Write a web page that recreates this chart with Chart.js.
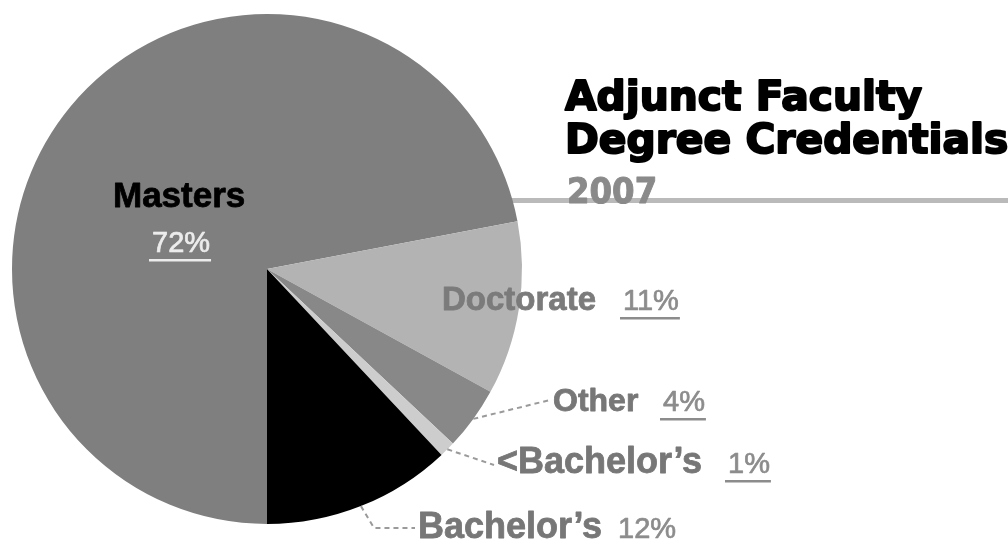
<!DOCTYPE html>
<html>
<head>
<meta charset="utf-8">
<title>Adjunct Faculty Degree Credentials 2007</title>
<script src="https://cdn.jsdelivr.net/npm/chart.js@4/dist/chart.umd.min.js"></script>
<style>
  html, body { margin: 0; padding: 0; background: #fff; }
  canvas { display: block; }
</style>
</head>
<body>
<canvas id="pie" width="1008" height="544"></canvas>
<script>
// degree shares, in drawing order (clockwise from the bottom)
const categories = ["Masters", "Doctorate", "Other", "<Bachelor\u2019s", "Bachelor\u2019s"];
const shares = [72, 11, 4, 1, 12];
const titleLines = ["Adjunct Faculty", "Degree Credentials"];
const yearLabel = "2007";

const sliceColors = ["#7f7f7f", "#b3b3b3", "#888888", "#cdcdcd", "#000000"];

// where each slice's label sits, and how its leader line runs
const labelSpots = [
  { x: 113, y: 207, size: 35, color: "#000", pctX: 152, pctY: 252, pctColor: "#ececec" },
  { x: 442, y: 310, size: 33, color: "#7b7b7b", pctX: 623, pctY: 310, pctColor: "#8c8c8c" },
  { x: 553, y: 411, size: 32, color: "#777", pctX: 663, pctY: 411, pctColor: "#8c8c8c", leader: [[550, 400]] },
  { x: 497, y: 473, size: 36, color: "#777", pctX: 728, pctY: 473, pctColor: "#8c8c8c", leader: [[494, 465]] },
  { x: 418, y: 538, size: 36, color: "#777", pctX: 618, pctY: 538, pctColor: "#8c8c8c", leader: [[374, 528], [415, 528]] },
];

// heavy text: fill plus a thin stroke of the same colour
function heavyText(ctx, text, x, y, sx, weight) {
  ctx.save();
  ctx.translate(x, y);
  ctx.scale(sx, 1);
  ctx.strokeStyle = ctx.fillStyle;
  ctx.lineWidth = weight;
  ctx.lineJoin = "round";
  ctx.fillText(text, 0, 0);
  if (weight > 0) ctx.strokeText(text, 0, 0);
  ctx.restore();
}

const headline = {
  id: "headline",
  beforeDatasetsDraw(chart) {
    const ctx = chart.ctx;
    ctx.save();
    ctx.fillStyle = "#bababa";
    ctx.fillRect(480, 198, 528, 5);
    ctx.restore();
  },
  afterDatasetsDraw(chart) {
    const ctx = chart.ctx;
    ctx.save();
    ctx.textBaseline = "alphabetic";
    ctx.textAlign = "left";
    ctx.font = "bold 40px 'DejaVu Sans'";
    ctx.fillStyle = "#000";
    heavyText(ctx, titleLines[0], 565, 110, 1.02, 2);
    heavyText(ctx, titleLines[1], 565, 153, 1.02, 2);
    ctx.font = "bold 36px 'DejaVu Sans'";
    ctx.fillStyle = "#8a8a8a";
    heavyText(ctx, yearLabel, 567, 203, 0.9, 1);
    ctx.restore();
  }
};

const sliceLabels = {
  id: "sliceLabels",
  afterDatasetsDraw(chart) {
    const ctx = chart.ctx;
    const arcs = chart.getDatasetMeta(0).data;
    ctx.save();
    ctx.textAlign = "left";
    ctx.textBaseline = "alphabetic";
    arcs.forEach((arc, i) => {
      const spot = labelSpots[i];
      const p = arc.getProps(["x", "y", "startAngle", "endAngle", "outerRadius"], true);

      if (spot.leader) {
        const mid = (p.startAngle + p.endAngle) / 2;
        ctx.beginPath();
        ctx.moveTo(p.x + Math.cos(mid) * p.outerRadius, p.y + Math.sin(mid) * p.outerRadius);
        spot.leader.forEach(([lx, ly]) => ctx.lineTo(lx, ly));
        ctx.strokeStyle = "#9a9a9a";
        ctx.lineWidth = 2;
        ctx.setLineDash([5, 4]);
        ctx.stroke();
        ctx.setLineDash([]);
      }

      ctx.font = `bold ${spot.size}px 'Liberation Sans'`;
      ctx.fillStyle = spot.color;
      heavyText(ctx, categories[i], spot.x, spot.y, 1, 0.8);

      const pct = shares[i] + "%";
      ctx.font = "29px 'Liberation Sans'";
      ctx.fillStyle = spot.pctColor;
      heavyText(ctx, pct, spot.pctX, spot.pctY, 1, 0.7);
      const w = ctx.measureText(pct).width;
      ctx.fillRect(spot.pctX - 3, spot.pctY + 7, w + 4, 2.5);
    });
    ctx.restore();
  }
};

new Chart(document.getElementById("pie"), {
  type: "pie",
  data: {
    labels: categories,
    datasets: [{
      data: shares,
      backgroundColor: sliceColors,
      borderWidth: 0,
    }],
  },
  options: {
    responsive: false,
    animation: false,
    rotation: 180,
    layout: { padding: { left: 12, top: 14, right: 486, bottom: 20 } },
    plugins: {
      legend: { display: false },
      tooltip: { enabled: false },
      title: { display: false },
    },
  },
  plugins: [headline, sliceLabels],
});
</script>
</body>
</html>
